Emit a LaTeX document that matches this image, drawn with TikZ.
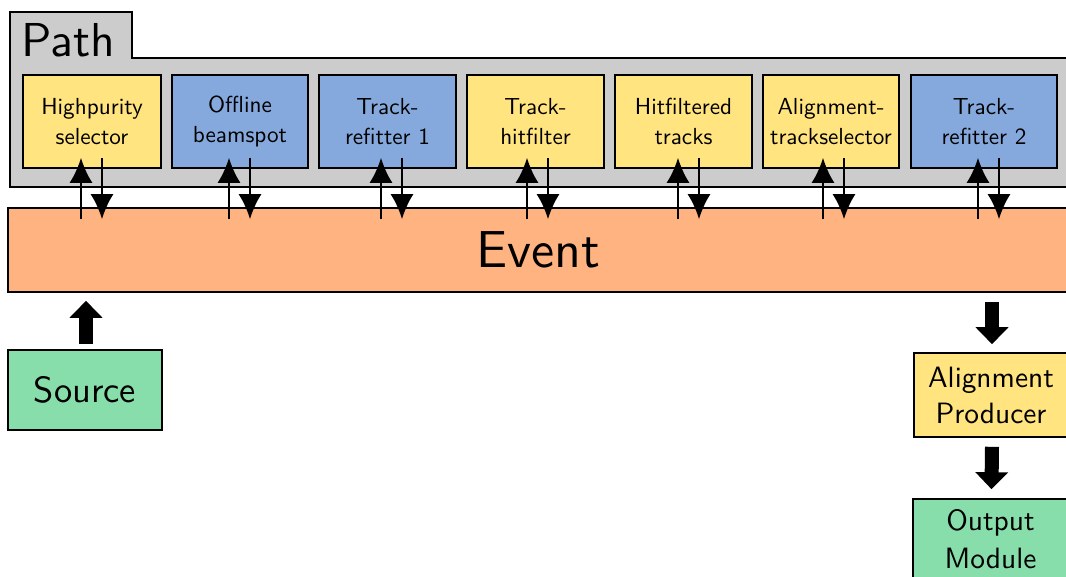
\documentclass[tikz,border=0pt]{standalone}
\usepackage{fontspec}
\setsansfont{lmsans10-regular.otf}
\usetikzlibrary{arrows.meta,calc}
\definecolor{pathgray}{HTML}{CCCCCC}
\definecolor{modyellow}{HTML}{FFE480}
\definecolor{modblue}{HTML}{86A9DD}
\definecolor{evorange}{HTML}{FFB380}
\definecolor{iogreen}{HTML}{87DEAA}
\tikzset{
  outline/.style={draw=black,line width=0.8pt},
  module/.style={outline,inner sep=0pt,align=center,
    minimum height=46.5pt,
    font={\sffamily\fontsize{11.6pt}{14.8pt}\selectfont}},
  iobox/.style={outline,inner sep=0pt,align=center},
  thinarrow/.style={line width=1.1pt,-{Latex[length=12.5pt,width=11.5pt]}},
  fatarrow/.style={line width=7pt,-{Triangle[length=8.5pt,width=16pt]}},
}
\begin{document}
\begin{tikzpicture}[x=0.5pt,y=-0.5pt]
\useasboundingbox (0,0) rectangle (1066,577);
\clip (0,0) rectangle (1066,577);

% Path container with its tab
\draw[outline,fill=pathgray] (10,187) -- (10,12) -- (132,12) -- (132,58)
  -- (1080,58) -- (1080,187) -- cycle;
\node[anchor=base west,inner sep=0pt,font={\sffamily\fontsize{23.8pt}{28pt}\selectfont}]
  (pathlabel) at (21,57) {Path};

% Modules in the path
\node[module,fill=modyellow,minimum width=69pt]   (m1) at (92,121.5)   {Highpurity\\selector};
\node[module,fill=modblue,minimum width=68pt]     (m2) at (240,121.5)  {Offline\\beamspot};
\node[module,fill=modblue,minimum width=68.5pt]   (m3) at (387.5,121.5){Track-\\refitter 1};
\node[module,fill=modyellow,minimum width=68.5pt] (m4) at (535.5,121.5){Track-\\hitfilter};
\node[module,fill=modyellow,minimum width=68.5pt] (m5) at (683.5,121.5){Hitfiltered\\tracks};
\node[module,fill=modyellow,minimum width=68pt]   (m6) at (831,121.5)  {Alignment-\\trackselector};
\node[module,fill=modblue,minimum width=73pt]     (m7) at (984,121.5)  {Track-\\refitter 2};

% Event record
\node[iobox,fill=evorange,minimum width=530pt,minimum height=42pt,
  font={\sffamily\fontsize{26pt}{30pt}\selectfont}] (ev) at (538,250) {Event};

% Module <-> event data flow
\foreach \m/\dx in {m1/-11,m2/-11,m3/-6.5,m4/-8.5,m5/-5.5,m6/-8,m7/-6}{
  \draw[thinarrow] ($(ev.north -| \m.south)+(\dx,12)$) -- ($(\m.south)+(\dx,-11)$);
  \draw[thinarrow] ($(\m.south)+(\dx+21,-11)$) -- ($(ev.north -| \m.south)+(\dx+21,12)$);
}

% Input and output chain
\node[iobox,fill=iogreen,minimum width=77pt,minimum height=40pt,
  font={\sffamily\fontsize{18.2pt}{22pt}\selectfont}] (src) at (85,390) {Source};
\node[iobox,fill=modyellow,minimum width=77pt,minimum height=42pt,
  font={\sffamily\fontsize{14.7pt}{18pt}\selectfont}] (ap) at (991,395) {Alignment\\Producer};
\node[iobox,fill=iogreen,minimum width=77.5pt,minimum height=40.5pt,
  font={\sffamily\fontsize{14.7pt}{19pt}\selectfont}] (om) at (990.5,539.5) {Output\\Module};

\draw[fatarrow] ($(src.north)+(1,-5)$) -- ($(src.north |- ev.south)+(1,8)$);
\draw[fatarrow] ($(ap.north |- ev.south)+(1,9)$) -- ($(ap.north)+(1,-8)$);
\draw[fatarrow] ($(ap.south)+(1,9)$) -- ($(om.north)+(1,-9)$);
\end{tikzpicture}
\end{document}
